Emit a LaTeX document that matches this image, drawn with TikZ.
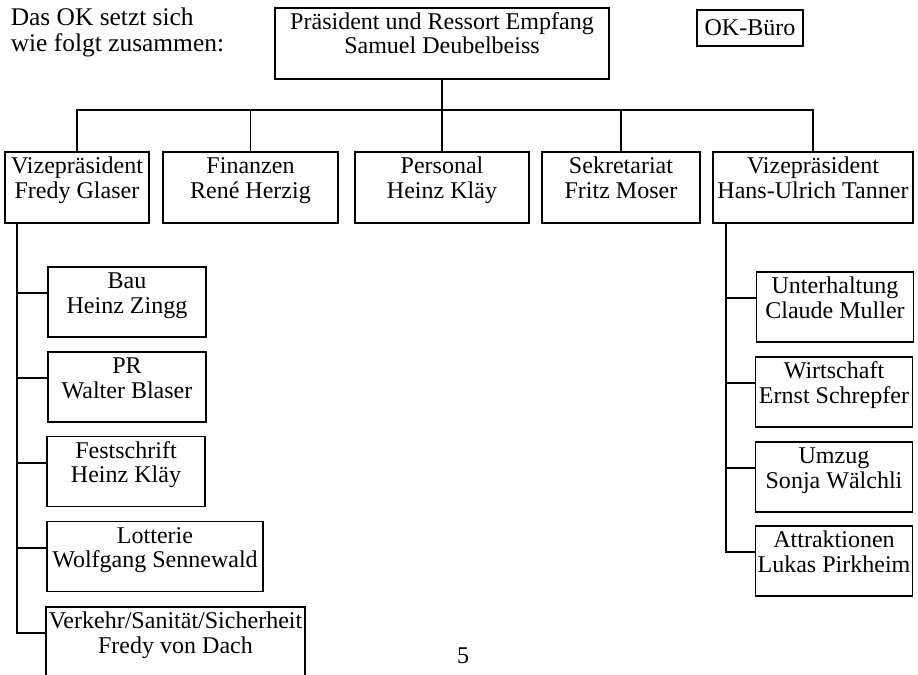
\documentclass[tikz,border=0pt]{standalone}
\usepackage{fontspec}
\setmainfont{Liberation Serif}
\usetikzlibrary{calc}
\begin{document}
\begin{tikzpicture}[x=0.03cm, y=-0.03cm, line width=1.4pt,
  box/.style={draw, align=center, inner sep=0pt, text height=1.38cm, text depth=0.72cm, font=\fontsize{20.5}{20.5}\selectfont},
  head/.style={box, text depth=0.75cm},
  sub/.style={box, minimum width=4.74cm}]
\clip (0,0) rectangle (918,675);
% title and president
\node[anchor=north west, align=left, inner sep=0pt, font=\fontsize{21.7}{22.2}\selectfont] (intro) at (10,7) {Das OK setzt sich\\wie folgt zusammen:};
\node[head, minimum width=10.02cm] (praes) at (442,43.5) {Präsident und Ressort Empfang\\Samuel Deubelbeiss};
\node[draw, inner sep=0pt, minimum width=3.18cm, minimum height=1.08cm, font=\fontsize{20.5}{20.5}\selectfont] (buero) at (750,28) {OK-Büro};
% second row
\node[head, minimum width=4.32cm] (vize1) at (77,187.5) {Vizepräsident\\Fredy Glaser};
\node[head, minimum width=5.25cm] (fin) at (250.5,187.5) {Finanzen\\René Herzig};
\node[head, minimum width=5.22cm] (pers) at (442,187.5) {Personal\\Heinz Kläy};
\node[head, minimum width=4.74cm] (sekr) at (621,187.5) {Sekretariat\\Fritz Moser};
\node[head, minimum width=6.0cm] (vize2) at (813,187.5) {Vizepräsident\\Hans-Ulrich Tanner};
% left column
\node[sub] (bau) at (127,302) {Bau\\Heinz Zingg};
\node[sub] (pr) at (127,387) {PR\\Walter Blaser};
\node[sub] (fest) at (126,471.5) {Festschrift\\Heinz Kläy};
\node[sub, minimum width=6.48cm] (lott) at (155,556.5) {Lotterie\\Wolfgang Sennewald};
\node[sub, minimum width=7.77cm] (verk) at (175.5,642) {Verkehr/Sanität/Sicherheit\\Fredy von Dach};
% right column
\node[sub, minimum width=4.71cm] (unt) at (835,307) {Unterhaltung\\Claude Muller};
\node[sub, minimum width=4.71cm] (wirt) at (834,392) {Wirtschaft\\Ernst Schrepfer};
\node[sub, minimum width=4.71cm] (umz) at (834,477) {Umzug\\Sonja Wälchli};
\node[sub, minimum width=4.71cm] (attr) at (834,561) {Attraktionen\\Lukas Pirkheim};
\node[font=\fontsize{20.5}{20.5}\selectfont] (seite) at (463,656) {5};
% lines
\coordinate (bar) at (0,110);
\draw (praes.south) -- (pers.north);
\draw (vize1.north) |- (vize2.north |- bar) -- (vize2.north);
\draw (fin.north) -- (fin.north |- bar);
\draw (sekr.north) -- (sekr.north |- bar);
\coordinate (lt) at ($(vize1.south west)+(13,0)$);
\coordinate (bau-in) at ($(bau.north west)+(0,27)$);
\coordinate (pr-in) at ($(pr.north west)+(0,27)$);
\coordinate (fest-in) at ($(fest.north west)+(0,27)$);
\coordinate (lott-in) at ($(lott.north west)+(0,27)$);
\coordinate (verk-in) at ($(verk.north west)+(0,27)$);
\draw (lt) |- (verk-in);
\draw (lt |- bau-in) -- (bau-in);
\draw (lt |- pr-in) -- (pr-in);
\draw (lt |- fest-in) -- (fest-in);
\draw (lt |- lott-in) -- (lott-in);
\coordinate (rt) at ($(vize2.south west)+(14,0)$);
\coordinate (unt-in) at ($(unt.north west)+(0,27)$);
\coordinate (wirt-in) at ($(wirt.north west)+(0,27)$);
\coordinate (umz-in) at ($(umz.north west)+(0,27)$);
\coordinate (attr-in) at ($(attr.north west)+(0,27)$);
\draw (rt) |- (attr-in);
\draw (rt |- unt-in) -- (unt-in);
\draw (rt |- wirt-in) -- (wirt-in);
\draw (rt |- umz-in) -- (umz-in);
\end{tikzpicture}
\end{document}
